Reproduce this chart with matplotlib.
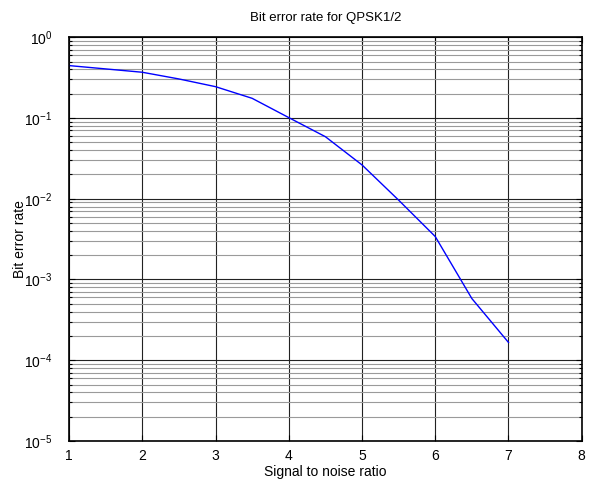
import matplotlib
matplotlib.use("Agg")
import matplotlib.pyplot as plt
from matplotlib.ticker import LogLocator, NullFormatter, FixedLocator

plt.rcParams['font.family'] = ['Liberation Sans', 'DejaVu Sans']

# values
snr = [1, 2, 2.5, 3, 3.5, 4, 4.5, 5, 5.5, 6, 6.5, 7]
ber = [0.445, 0.368, 0.304, 0.244, 0.175, 0.101, 0.0586, 0.0262, 0.0096,
       0.0034, 0.00058, 0.000166]
x_ticks = [1, 2, 3, 4, 5, 6, 7, 8]

fig = plt.figure(figsize=(5.9, 4.83), dpi=100)
ax = fig.add_axes([0.117, 0.087, 0.869, 0.836])

ax.plot(snr, ber, color="blue", linewidth=1.0)
ax.set_yscale("log")
ax.set_xlim(1, 8)
ax.set_ylim(1e-5, 1)

ax.xaxis.set_major_locator(FixedLocator(x_ticks))
ax.yaxis.set_major_locator(LogLocator(base=10, numticks=10))
ax.yaxis.set_minor_locator(LogLocator(base=10, subs=range(2, 10), numticks=20))
ax.yaxis.set_minor_formatter(NullFormatter())

ax.grid(True, which="major", color="#222222", linewidth=0.8)
ax.grid(True, which="minor", axis="y", color="#9a9a9a", linewidth=0.8)
ax.set_axisbelow(True)

ax.tick_params(which="both", direction="in", top=True, right=True, labelsize=10)
ax.tick_params(which="major", length=4, width=0.8)
ax.tick_params(which="minor", length=2.5, width=0.8)
ax.tick_params(axis="y", which="major", pad=12)
ax.tick_params(axis="x", which="major", pad=6)
for s in ax.spines.values():
    s.set_linewidth(1.2)

ax.set_title("Bit error rate for QPSK1/2", fontsize=9.5, pad=12)
ax.set_xlabel("Signal to noise ratio", fontsize=10, labelpad=1)
ax.set_ylabel("Bit error rate", fontsize=10)
ax.yaxis.set_label_coords(-0.082, 0.5)

fig.savefig("out.png", dpi=100)
